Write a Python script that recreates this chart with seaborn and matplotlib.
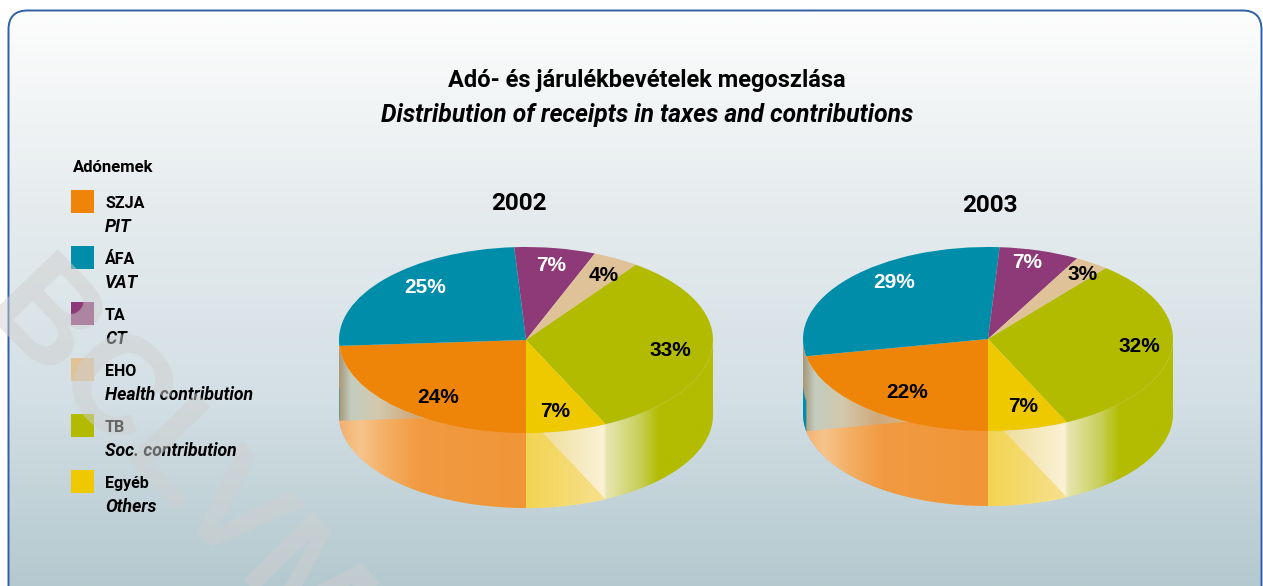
import numpy as np
import matplotlib
matplotlib.use("Agg")
import matplotlib.pyplot as plt
from matplotlib.colors import LinearSegmentedColormap
from matplotlib.patches import FancyBboxPatch, Polygon, Rectangle
import seaborn as sns

# Datos
years = ["2002", "2003"]
shares_2002 = [24, 25, 7, 4, 33, 7]
shares_2003 = [22, 29, 7, 3, 32, 7]
names_hu = ["SZJA", "ÁFA", "TA", "EHO", "TB", "Egyéb"]
names_en = ["PIT", "VAT", "CT", "Health contribution", "Soc. contribution", "Others"]
slice_colors = ["#ef8508", "#008da9", "#8e3a78", "#dfc297", "#b2bb00", "#efc900"]
label_colors = ["black", "white", "white", "black", "black", "black"]

W, H = 1263, 586
sns.set_theme(style="white")
palette = sns.color_palette(slice_colors)
plt.rcParams["font.family"] = ["Roboto", "DejaVu Sans"]
plt.rcParams["text.color"] = "black"

# Posicion de las etiquetas en pixeles
label_px_2002 = [(438, 397), (425, 287), (551, 265), (604, 275), (670, 350), (555, 411)]
label_px_2003 = [(907, 393), (894, 283), (1027, 262), (1083, 275), (1139, 347), (1023, 407)]

fig = plt.figure(figsize=(W / 100, H / 100), dpi=100, facecolor="white")
ax = fig.add_axes([0, 0, 1, 1])
ax.set_axis_off()

# Fondo de la tarjeta
card = FancyBboxPatch((8.5, 10.5), 1253, 600, boxstyle="round,pad=0,rounding_size=19",
                      facecolor="none", edgecolor="#2f5fa6", linewidth=1.4, zorder=3)
ax.add_patch(card)
bg_cmap = LinearSegmentedColormap.from_list("bg", ["#fdfdfd", "#e6ecee", "#d4e0e5", "#b4c9cf"])
bg = ax.imshow(np.linspace(0, 1, 300).reshape(-1, 1), extent=[8, 1262, 586, 10],
               aspect="auto", cmap=bg_cmap, zorder=1)
bg.set_clip_path(card)


def ellipse_xy(cx, cy, rx, ry, angles):
    a = np.radians(angles)
    return cx + rx * np.cos(a), cy - ry * np.sin(a)


def gradient(cmap_stops, clip, box):
    cmap = LinearSegmentedColormap.from_list("g", cmap_stops)
    im = ax.imshow(np.linspace(0, 1, 400).reshape(1, -1), extent=box, aspect="auto",
                   cmap=cmap, zorder=2)
    im.set_clip_path(clip)


def draw_pie(values, label_px, cx, cy, rx, ry, depth):
    shares = np.array(values, dtype=float)
    # El pastel empieza abajo y gira en sentido horario
    edges = 270 - np.cumsum(np.r_[0, shares]) * 3.6
    box = [cx - rx, cx + rx, cy + ry + depth, cy]

    # Pared de vidrio
    arc = np.linspace(180, 360, 200)
    bx, by = ellipse_xy(cx, cy + depth, rx, ry, arc)
    tx, ty = ellipse_xy(cx, cy, rx, ry, arc[::-1])
    wall = Polygon(np.c_[np.r_[bx, tx], np.r_[by, ty]], closed=True, transform=ax.transData,
                   facecolor="none", edgecolor="none")
    ax.add_patch(wall)
    gradient([(0, "#a89c80"), (0.03, "#c3cdbf"), (0.10, "#d3c9ad"), (0.20, "#cfa97c"),
              (0.55, "#f0dfa0"), (0.711, "#fbf2d6"), (0.715, "#e8e6b2"), (0.805, "#c9cf5a"),
              (0.858, "#b3bc00"), (1, "#b3bc00")], wall, box)

    # Franja del primer tramo trasero
    arc = np.linspace(180, edges[1], 20)
    bx, by = ellipse_xy(cx, cy + depth, rx, ry, arc)
    tx, ty = ellipse_xy(cx, cy + depth * 0.6, rx, ry, arc[::-1])
    ax.add_patch(Polygon(np.c_[np.r_[bx, tx], np.r_[by, ty]], closed=True, facecolor=palette[1],
                         edgecolor="none", zorder=2))

    # Caras inferiores vistas a traves de la pared
    orange_arc = np.linspace(edges[1], 270, 150)
    x, y = ellipse_xy(cx, cy + depth, rx, ry, orange_arc)
    orange = Polygon(np.c_[np.r_[cx, x], np.r_[cy + depth, y]], closed=True,
                     transform=ax.transData, facecolor="none", edgecolor="none")
    ax.add_patch(orange)
    gradient([(0, "#f4b070"), (0.11, "#f6c48a"), (0.26, "#f4ad62"), (0.43, "#f19a40"),
              (1, "#f09638")], orange, [cx - rx, cx, cy + ry + depth, cy])

    yellow_arc = np.linspace(270, edges[5] + 360, 40)
    x, y = ellipse_xy(cx, cy + depth, rx, ry, yellow_arc)
    yellow = Polygon(np.c_[np.r_[cx, x], np.r_[cy + depth, y]], closed=True,
                     transform=ax.transData, facecolor="none", edgecolor="none")
    ax.add_patch(yellow)
    gradient([(0, "#f2d452"), (1, "#f7e08e")], yellow,
             [cx, cx + rx * np.cos(np.radians(edges[5])), cy + ry + depth, cy])

    # Cara superior
    pad = 1.03
    pie_ax = fig.add_axes([(cx - rx * pad) / W, 1 - (cy + ry * pad) / H,
                           2 * rx * pad / W, 2 * ry * pad / H])
    wedges, texts, pcts = pie_ax.pie(shares, colors=palette, startangle=270, counterclock=False,
                                     autopct="%.0f%%", wedgeprops={"linewidth": 0, "edgecolor": "none"},
                                     textprops={"family": "Liberation Sans", "weight": "bold",
                                                "fontsize": 15})
    pie_ax.set_aspect("auto")
    pie_ax.set_xlim(-pad, pad)
    pie_ax.set_ylim(-pad, pad)
    for pct, color, (px, py) in zip(pcts, label_colors, label_px):
        pct.set_color(color)
        pct.set_position(((px - cx) / rx, (cy - py) / ry))


draw_pie(shares_2002, label_px_2002, 526, 340, 187, 93, 75)
draw_pie(shares_2003, label_px_2003, 988, 339, 185, 92, 75)

# Titulos
ax.text(647, 81, "Adó- és járulékbevételek megoszlása", ha="center", va="center",
        fontsize=17, fontweight="bold", zorder=4)
ax.text(647.5, 115, "Distribution of receipts in taxes and contributions", ha="center", va="center",
        fontsize=17.7, fontweight="bold", fontstyle="italic", zorder=4)
ax.text(519, 203, years[0], ha="center", va="center", fontsize=17.5, fontweight="bold", zorder=4)
ax.text(990, 205, years[1], ha="center", va="center", fontsize=17.5, fontweight="bold", zorder=4)

# Leyenda
ax.text(73, 167, "Adónemek", ha="left", va="center", fontsize=12, fontweight="bold", zorder=4)
for i, (hu, en) in enumerate(zip(names_hu, names_en)):
    top = 190 + 56 * i
    ax.add_patch(Rectangle((71, top), 23, 23, facecolor=palette[i], edgecolor="none", zorder=4))
    ax.text(105, top + 13.5, hu, ha="left", va="center", fontsize=11.5, fontweight="bold", zorder=4)
    ax.text(105, top + 37.5, en, ha="left", va="center", fontsize=12.7, fontweight="bold",
            fontstyle="italic", zorder=4)

# Marca de agua
ax.text(4, 290, "BCLVM", ha="left", va="center", rotation=-46, rotation_mode="anchor",
        fontsize=100, fontweight="bold", color="#cfcfcf", alpha=0.5, zorder=5,
        family="Liberation Sans", clip_on=True)

ax.set_xlim(0, W)
ax.set_ylim(H, 0)
fig.savefig("out.png", dpi=100, facecolor="white")
